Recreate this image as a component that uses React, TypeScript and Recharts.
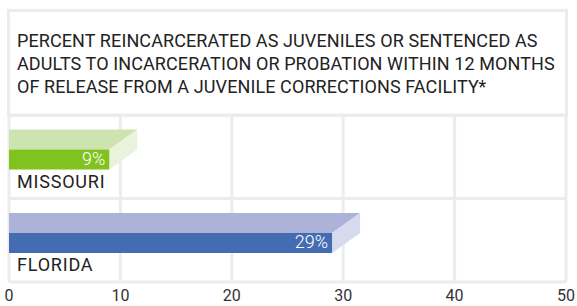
import { BarChart, Bar, XAxis, YAxis, CartesianGrid } from 'recharts'

const categories = ['MISSOURI', 'FLORIDA']
const values = [9, 29]
const xTicks = [0, 10, 20, 30, 40, 50]
const titleLines = [
  'PERCENT REINCARCERATED AS JUVENILES OR SENTENCED AS',
  'ADULTS TO INCARCERATION OR PROBATION WITHIN 12 MONTHS',
  'OF RELEASE FROM A JUVENILE CORRECTIONS FACILITY*',
]

// front / top / side face colours per category
const FACES = [
  { front: '#80c31f', top: '#cde4b0', side: '#e9f2dc' },
  { front: '#456cb3', top: '#adb2d9', side: '#d7d9ee' },
]

const GRID = '#ececec'
const FONT = 'Roboto, "Noto Sans", sans-serif'
const DEPTH_X = 28
const DEPTH_Y = 20

const data = categories.map((name, i) => ({ name, value: values[i] }))

function Bar3D(props: any) {
  const { x, y, width, index, payload } = props
  const c = FACES[index % FACES.length]
  const t = y - 7.5
  const x1 = x + width
  return (
    <g>
      <polygon
        points={`${x},${t} ${x1 + DEPTH_X},${t} ${x1},${t + DEPTH_Y} ${x},${t + DEPTH_Y}`}
        fill={c.top}
      />
      <polygon
        points={`${x1},${t + DEPTH_Y} ${x1 + DEPTH_X},${t} ${x1 + DEPTH_X},${t + DEPTH_Y} ${x1},${t + 2 * DEPTH_Y}`}
        fill={c.side}
      />
      <rect x={x} y={t + DEPTH_Y} width={width} height={DEPTH_Y} fill={c.front} />
      <text x={x1 - 4} y={t + 35} textAnchor="end" fill="#fff" fontSize={18} fontWeight={300} fontFamily={FONT}>
        {payload.value}%
      </text>
      <text x={x + 8} y={t + 58} fill="#222" fontSize={18} fontFamily={FONT} letterSpacing={0.8}>
        {payload.name}
      </text>
    </g>
  )
}

export default function App() {
  return (
    <div style={{ position: 'absolute', left: 0, top: 0, width: 577, height: 306, background: '#fff' }}>
      <div
        style={{
          position: 'absolute',
          left: 7,
          top: 9,
          width: 561,
          height: 108,
          border: `3px solid ${GRID}`,
          boxSizing: 'border-box',
        }}
      />
      <div
        style={{
          position: 'absolute',
          left: 17,
          top: 29,
          fontFamily: FONT,
          fontSize: 18,
          lineHeight: '23px',
          letterSpacing: 0.1,
          color: '#222',
          whiteSpace: 'nowrap',
        }}
      >
        {titleLines.map((l) => (
          <div key={l}>{l}</div>
        ))}
      </div>
      <div style={{ position: 'absolute', left: 0, top: 0 }}>
        <BarChart
          width={577}
          height={306}
          data={data}
          layout="vertical"
          margin={{ top: 115, right: 11, bottom: 0, left: 9 }}
        >
          <CartesianGrid
            stroke={GRID}
            strokeWidth={3}
            horizontalCoordinatesGenerator={({ offset }: any) => [
              offset.top,
              offset.top + offset.height / 2,
              offset.top + offset.height,
            ]}
          />
          <XAxis
            type="number"
            domain={[0, 50]}
            ticks={xTicks}
            axisLine={false}
            tickLine={false}
            tickSize={0}
            tickMargin={8}
            height={24}
            interval={0}
            tick={{ fill: '#333', fontSize: 16, fontFamily: FONT }}
          />
          <YAxis type="category" dataKey="name" hide />
          <Bar dataKey="value" barSize={40} shape={<Bar3D />} isAnimationActive={false} />
        </BarChart>
      </div>
    </div>
  )
}
